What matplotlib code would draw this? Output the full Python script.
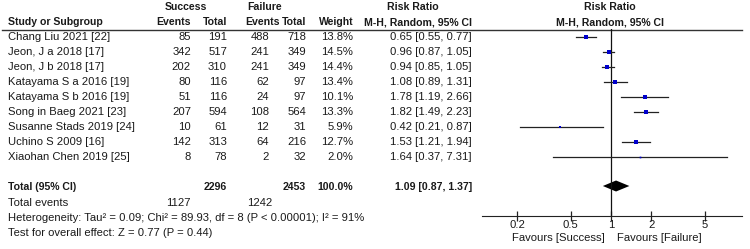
import numpy as np
import matplotlib
matplotlib.use("Agg")
import matplotlib.pyplot as plt

plt.rcParams["font.family"] = ["Liberation Sans", "DejaVu Sans"]
FS = 8.1
FSB = 7.6
TXT = "#1a1a1a"

studies = ["Chang Liu 2021 [22]", "Jeon, J a 2018 [17]", "Jeon, J b 2018 [17]",
           "Katayama S a 2016 [19]", "Katayama S b 2016 [19]", "Song in Baeg 2021 [23]",
           "Susanne Stads 2019 [24]", "Uchino S 2009 [16]", "Xiaohan Chen 2019 [25]"]
succ_events = [85, 342, 202, 80, 51, 207, 10, 142, 8]
succ_total = [191, 517, 310, 116, 116, 594, 61, 313, 78]
fail_events = [488, 241, 241, 62, 24, 108, 12, 64, 2]
fail_total = [718, 349, 349, 97, 97, 564, 31, 216, 32]
weights = [13.8, 14.5, 14.4, 13.4, 10.1, 13.3, 5.9, 12.7, 2.0]
rr = [0.65, 0.96, 0.94, 1.08, 1.78, 1.82, 0.42, 1.53, 1.64]
lo = [0.55, 0.87, 0.85, 0.89, 1.19, 1.49, 0.21, 1.21, 0.37]
hi = [0.77, 1.05, 1.05, 1.31, 2.66, 2.23, 0.87, 1.94, 7.31]

tot_succ, tot_fail = 2296, 2453
ev_succ, ev_fail = 1127, 1242
tot_rr, tot_lo, tot_hi = 1.09, 0.87, 1.37
ticks = [0.2, 0.5, 1, 2, 5]

W, H = 750, 249
fig = plt.figure(figsize=(W / 100, H / 100), dpi=100)
ax = fig.add_axes([0, 0, 1, 1])
ax.set_xlim(0, W)
ax.set_ylim(H, 0)
ax.axis("off")

def t(x, y, s, ha="left", bold=False):
    ax.text(x, y, s, ha=ha, va="center", fontsize=FSB if bold else FS, color=TXT,
            fontweight="bold" if bold else "normal")

# headers
t(186, 7, "Success", "center", True)
t(265, 7, "Failure", "center", True)
t(413, 7, "Risk Ratio", "center", True)
t(610, 7, "Risk Ratio", "center", True)
t(8, 22, "Study or Subgroup", bold=True)
t(191, 22, "Events", "right", True)
t(227, 22, "Total", "right", True)
t(280, 22, "Events", "right", True)
t(306, 22, "Total", "right", True)
t(354, 22, "Weight", "right", True)
t(472, 22, "M-H, Random, 95% CI", "right", True)
t(610, 22, "M-H, Random, 95% CI", "center", True)
ax.plot([2, 742], [29.5, 29.5], color="#333333", lw=1.0)

rows = 37 + 15 * np.arange(len(studies))
for i, y in enumerate(rows):
    t(8, y, studies[i])
    t(191, y, str(succ_events[i]), "right")
    t(227, y, str(succ_total[i]), "right")
    t(269, y, str(fail_events[i]), "right")
    t(306, y, str(fail_total[i]), "right")
    t(353, y, f"{weights[i]:.1f}%", "right")
    t(472, y, f"{rr[i]:.2f} [{lo[i]:.2f}, {hi[i]:.2f}]", "right")

ty = 187
t(8, ty, "Total (95% CI)", bold=True)
t(227, ty, str(tot_succ), "right", True)
t(306, ty, str(tot_fail), "right", True)
t(353, ty, "100.0%", "right", True)
t(472, ty, f"{tot_rr:.2f} [{tot_lo:.2f}, {tot_hi:.2f}]", "right", True)
t(8, 203, "Total events")
t(191, 203, str(ev_succ), "right")
t(272, 203, str(ev_fail), "right")
t(8, 218, "Heterogeneity: Tau\u00b2 = 0.09; Chi\u00b2 = 89.93, df = 8 (P < 0.00001); I\u00b2 = 91%")
t(8, 233, "Test for overall effect: Z = 0.77 (P = 0.44)")
t(605, 238, "Favours [Success]", "right")
t(617, 238, "Favours [Failure]", "left")

# forest panel: 0.2 at x=517 px, 5 at x=705 px
x0, x1 = 482, 742
y_top, y_bot = 29.5, 215.5
ppd = (705 - 517) / np.log10(25)
lx0 = np.log10(0.2) - (517 - x0) / ppd
lx1 = np.log10(0.2) + (x1 - 517) / ppd
fa = fig.add_axes([x0 / W, 1 - y_bot / H, (x1 - x0) / W, (y_bot - y_top) / H])
fa.patch.set_alpha(0)
fa.set_xscale("log")
fa.set_xlim(10 ** lx0, 10 ** lx1)
fa.set_ylim(y_bot, y_top)
for s in ["top", "left", "right"]:
    fa.spines[s].set_visible(False)
fa.spines["bottom"].set_color("#222222")
fa.set_yticks([])
fa.set_xticks(ticks)
fa.set_xticklabels([f"{v:g}" for v in ticks], fontsize=FS, color=TXT)
fa.minorticks_off()
fa.tick_params(axis="x", direction="inout", length=7, width=0.9, pad=0, color="#222222")
fa.axvline(1, color="#111111", lw=0.9)

for i, y in enumerate(rows):
    fa.plot([lo[i], hi[i]], [y, y], color="#222222", lw=0.9)
    fa.plot(rr[i], y, marker="s", color="#0000cc", ms=0.85 * np.sqrt(weights[i]),
            markeredgewidth=0, linestyle="none")

fa.fill([tot_lo, tot_rr, tot_hi, tot_rr], [ty - 1, ty - 6.5, ty - 1, ty + 4.5],
        color="black", lw=0)

fig.savefig("out.png", dpi=100)
